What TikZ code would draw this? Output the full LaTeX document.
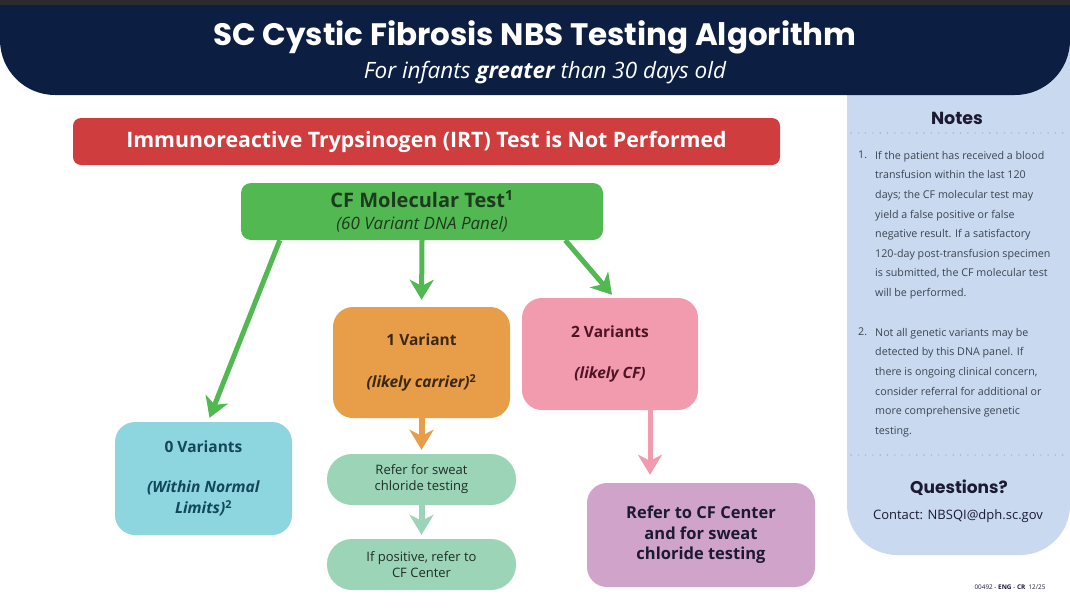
\documentclass[tikz,border=0pt]{standalone}
\usepackage{fontspec}
\setmainfont{Open Sans}
\newfontfamily\headfont{Poppins}
\usetikzlibrary{arrows.meta,positioning,calc}

\definecolor{topbar}{HTML}{2B2B2E}
\definecolor{navy}{HTML}{0C1F42}
\definecolor{panel}{HTML}{C9DAF0}
\definecolor{dotline}{HTML}{A3B4CC}
\definecolor{irtred}{HTML}{D03D3E}
\definecolor{molgreen}{HTML}{52B952}
\definecolor{orange}{HTML}{E89D48}
\definecolor{pink}{HTML}{F29AAE}
\definecolor{teal}{HTML}{8DD5DF}
\definecolor{mint}{HTML}{9BD4B6}
\definecolor{purple}{HTML}{CFA3CA}
\definecolor{darkgreen}{HTML}{1E3A1E}
\definecolor{brown}{HTML}{3A2812}
\definecolor{maroon}{HTML}{4E1424}
\definecolor{darkteal}{HTML}{12475A}
\definecolor{darkmint}{HTML}{1E2E26}
\definecolor{ink}{HTML}{1C1A33}
\definecolor{notegray}{HTML}{3C4450}

\tikzset{
  box/.style={rounded corners=20pt,inner sep=0pt,align=center},
  pill/.style={box,rounded corners=25pt,fill=mint,text=darkmint,
    minimum width=189pt,minimum height=51pt,
    font=\fontsize{13}{16}\selectfont},
  notetext/.style={inner sep=0pt,anchor=north west,align=left,text=notegray,
    font=\fontsize{10.7}{19.6}\selectfont},
  flow/.style={line width=5pt,-{Stealth[length=20pt,width=24pt,inset=6pt]}},
  dotsep/.style={dotline,line width=1.6pt,line cap=round,dash pattern=on 0pt off 7.3pt}
}

\begin{document}
\begin{tikzpicture}[x=1pt,y=-1pt]
  \useasboundingbox (0,0) rectangle (1070,608);

  % notes panel and banner
  \fill[panel,rounded corners=50pt] (847,0) rectangle (1070,555);
  \fill[navy,rounded corners=55pt] (0,-60) rectangle (1070,95);
  \fill[topbar] (0,0) rectangle (1070,5);

  \node[text=white,font=\headfont\bfseries\fontsize{31}{34}\selectfont] (title) at (535,37)
    {SC Cystic Fibrosis NBS Testing Algorithm};
  \node[text=white,font=\itshape\fontsize{22.5}{26}\selectfont] (subtitle) at (545,73)
    {For infants \textbf{greater} than 30 days old};

  % flow chart
  \node[box,rounded corners=8pt,fill=irtred,text=white,minimum width=707pt,minimum height=47pt,
    font=\bfseries\fontsize{21.3}{24}\selectfont] (irt) at (426.5,141.5)
    {Immunoreactive Trypsinogen (IRT) Test is Not Performed};

  \node[box,rounded corners=10pt,fill=molgreen,text=darkgreen,minimum width=362pt,minimum height=57pt,
    font=\fontsize{17}{22}\selectfont] (cfm) at (422,211.5)
    {{\bfseries\fontsize{20}{22}\selectfont CF Molecular Test\textsuperscript{1}}\\\textit{(60 Variant DNA Panel)}};

  \node[box,fill=orange,text=brown,minimum width=177pt,minimum height=111pt,
    font=\bfseries\fontsize{15.5}{21}\selectfont] (v1) at (421.5,362.5)
    {1 Variant\\[21pt]\textit{(likely carrier)}\textsuperscript{2}};
  \node[box,fill=pink,text=maroon,minimum width=176pt,minimum height=112pt,
    font=\bfseries\fontsize{15.5}{21}\selectfont] (v2) at (610,354)
    {2 Variants\\[20pt]\textit{(likely CF)}};
  \node[box,fill=teal,text=darkteal,minimum width=177pt,minimum height=113pt,
    font=\bfseries\fontsize{15.5}{21}\selectfont] (v0) at (203.5,478.5)
    {0 Variants\\[19pt]\textit{(Within Normal}\\\textit{Limits)}\textsuperscript{2}};

  \node[pill] (sweat) at (421.5,479.5) {Refer for sweat\\chloride testing};
  \node[pill] (pos) at (421.5,564.5) {If positive, refer to\\CF Center};

  \node[box,fill=purple,text=ink,minimum width=228pt,minimum height=104pt,
    font=\bfseries\fontsize{16.5}{20.5}\selectfont] (cfc) at (701,535)
    {Refer to CF Center\\and for sweat\\chloride testing};

  \coordinate (v2out) at ($(v2.south)+(40,0)$);

  \draw[flow,molgreen] ($(cfm.south west)+(39,0)$) -- ($(v0.north)+(6,-4)$);
  \draw[flow,molgreen,shorten >=7pt] (cfm.south) -- (v1.north);
  \draw[flow,molgreen] ($(cfm.south east)+(-38,0)$) -- ($(v2.north)+(2,-3)$);
  \draw[flow,orange,line width=6pt,shorten >=4pt] (v1.south) -- (sweat.north);
  \draw[flow,mint,line width=6pt,shorten >=4pt] (sweat.south) -- (pos.north);
  \draw[flow,pink,shorten >=8pt] (v2out) -- (v2out |- cfc.north);

  % notes
  \node[text=ink,font=\headfont\bfseries\fontsize{17.5}{20}\selectfont] (notes) at (957,118) {Notes};
  \draw[dotsep] (851,133) -- (1066,133);
  \node[notetext] (num1) at (858,151) {1.};
  \node[notetext] (note1) at (875,151)
    {If the patient has received a blood\\transfusion within the last 120\\days; the CF molecular test may\\yield a false positive or false\\negative result. If a satisfactory\\120-day post-transfusion specimen\\is submitted, the CF molecular test\\will be performed.};
  \node[notetext] (num2) at (858,328) {2.};
  \node[notetext] (note2) at (875,328)
    {Not all genetic variants may be\\detected by this DNA panel. If\\there is ongoing clinical concern,\\consider referral for additional or\\more comprehensive genetic\\testing.};
  \draw[dotsep] (851,455) -- (1066,455);
  \node[text=ink,font=\headfont\bfseries\fontsize{17}{20}\selectfont] (quest) at (959,488) {Questions?};
  \node[text=ink,font=\fontsize{13}{16}\selectfont] (contact) at (958,516) {Contact: NBSQI@dph.sc.gov};

  \node[text=ink,font=\fontsize{6.4}{8}\selectfont] (code) at (1010,587)
    {00492 - \textbf{ENG} - \textbf{CR}\enspace 12/25};
\end{tikzpicture}
\end{document}
